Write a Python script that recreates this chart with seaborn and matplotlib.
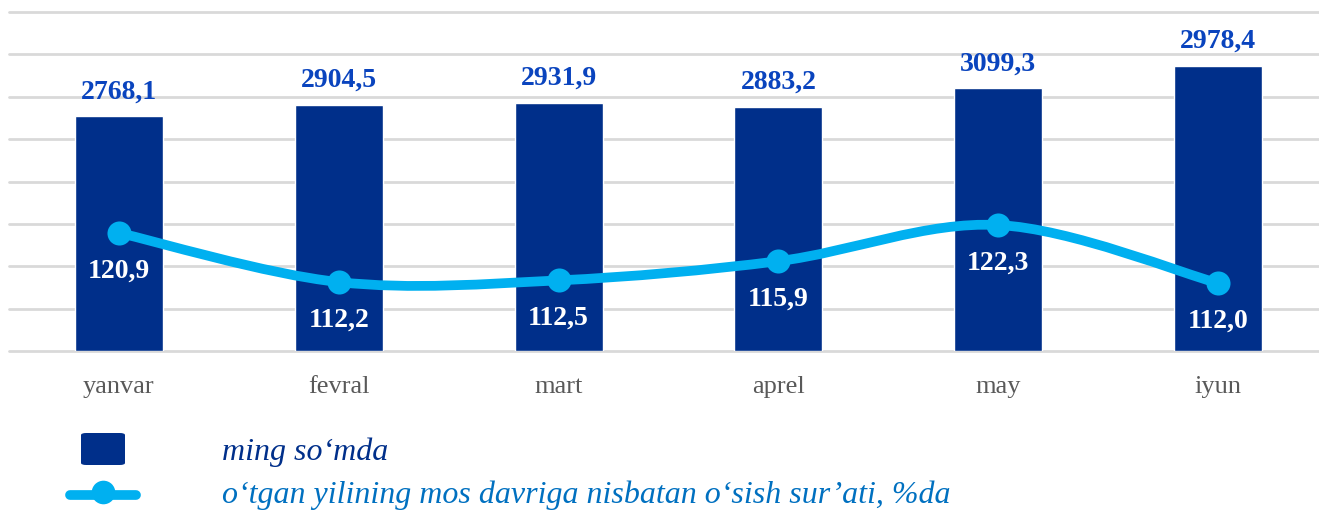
import numpy as np
import matplotlib
matplotlib.use("Agg")
import matplotlib.pyplot as plt
import seaborn as sns
from matplotlib.path import Path
from matplotlib.patches import PathPatch, FancyBboxPatch
from matplotlib.lines import Line2D

# data
months = ["yanvar", "fevral", "mart", "aprel", "may", "iyun"]
wage_labels = ["2768,1", "2904,5", "2931,9", "2883,2", "3099,3", "2978,4"]
# bar heights as drawn in the picture (the june bar is drawn taller than its label)
wage_heights = [2768.1, 2904.5, 2931.9, 2883.2, 3099.3, 3365.0]
growth = [120.9, 112.2, 112.5, 115.9, 122.3, 112.0]
growth_labels = ["120,9", "112,2", "112,5", "115,9", "122,3", "112,0"]

bar_name = "ming so\u2018mda"
line_name = "o\u2018tgan yilining mos davriga nisbatan o\u2018sish sur\u2019ati, %da"

BAR_COLOR = "#002F8A"
BAR_TEXT = "#0A44BE"
LINE_COLOR = "#00B0F0"
LINE_TEXT = "#0070C0"
GRID = "#D9D9D9"

sns.set_theme(style="white")
plt.rcParams["font.family"] = ["Liberation Serif", "DejaVu Serif"]


def smooth_path(xs, ys):
    # Catmull-Rom style bezier through the points (like a spreadsheet "smoothed line")
    pts = np.column_stack([xs, ys]).astype(float)
    ext = np.vstack([pts[0], pts, pts[-1]])
    verts = [tuple(pts[0])]
    codes = [Path.MOVETO]
    for i in range(len(pts) - 1):
        p0, p1, p2, p3 = ext[i], ext[i + 1], ext[i + 2], ext[i + 3]
        c1 = p1 + (p2 - p0) / 6.0
        c2 = p2 - (p3 - p1) / 6.0
        verts += [tuple(c1), tuple(c2), tuple(p2)]
        codes += [Path.CURVE4] * 3
    return Path(verts, codes)


def main():
    fig = plt.figure(figsize=(13.19, 5.14), dpi=100)
    ax = fig.add_axes([9 / 1319, 163 / 514, 1319 / 1319, 339 / 514])

    sns.barplot(x=months, y=wage_heights, color=BAR_COLOR, width=0.4,
                saturation=1, ax=ax, zorder=2)
    ax.set_ylim(0, 4000)
    ax.set_yticks(np.arange(0, 4001, 500))
    ax.set_xlim(-0.5, 5.5)
    ax.yaxis.grid(True, color=GRID, linewidth=2)
    ax.set_axisbelow(True)
    for s in ax.spines.values():
        s.set_visible(False)
    ax.set_xlabel("")
    ax.set_ylabel("")

    for i, (h, lab) in enumerate(zip(wage_heights, wage_labels)):
        ax.annotate(lab, (i, h), xytext=(0, 13), textcoords="offset points",
                    ha="center", va="baseline", fontsize=20, fontweight="bold",
                    color=BAR_TEXT)

    ax2 = ax.twinx()
    ax2.set_ylim(100, 160)
    ax2.set_axis_off()
    xs = np.arange(len(months))
    ax2.add_patch(PathPatch(smooth_path(xs, growth), facecolor="none",
                            edgecolor=LINE_COLOR, linewidth=7, capstyle="round",
                            zorder=3))
    sns.scatterplot(x=xs, y=growth, color=LINE_COLOR, s=300, linewidth=0,
                    ax=ax2, zorder=4, legend=False)
    for i, (v, lab) in enumerate(zip(growth, growth_labels)):
        ax2.annotate(lab, (i, v), xytext=(0, -32), textcoords="offset points",
                     ha="center", va="baseline", fontsize=20, fontweight="bold",
                     color="white", zorder=5)

    # twinx turns the left ticks back on, so hide them afterwards
    ax.tick_params(axis="y", left=False, right=False, labelleft=False)
    ax.tick_params(axis="x", bottom=False, pad=12, labelsize=19, labelcolor="#595959")
    for gl in ax.get_ygridlines():
        gl.set_clip_on(False)

    # legend drawn below the plot
    W, H = 1319, 514
    fig.patches.append(FancyBboxPatch((81 / W, (H - 465) / H), 44 / W, 32 / H,
                                      boxstyle="round,pad=0,rounding_size=0.004",
                                      transform=fig.transFigure, facecolor=BAR_COLOR,
                                      edgecolor="none"))
    fig.lines.append(Line2D([70 / W, 136 / W], [(H - 495) / H] * 2,
                            transform=fig.transFigure, color=LINE_COLOR,
                            linewidth=7, solid_capstyle="round"))
    fig.lines.append(Line2D([103 / W], [(H - 492) / H], transform=fig.transFigure,
                            color=LINE_COLOR, marker="o", markersize=17,
                            markeredgewidth=0))
    fig.text(222 / W, (H - 452) / H, bar_name, fontsize=23, style="italic",
             color=BAR_COLOR, va="center", ha="left")
    fig.text(222 / W, (H - 495) / H, line_name, fontsize=23, style="italic",
             color=LINE_TEXT, va="center", ha="left")

    fig.savefig("out.png", dpi=100)


if __name__ == "__main__":
    main()
